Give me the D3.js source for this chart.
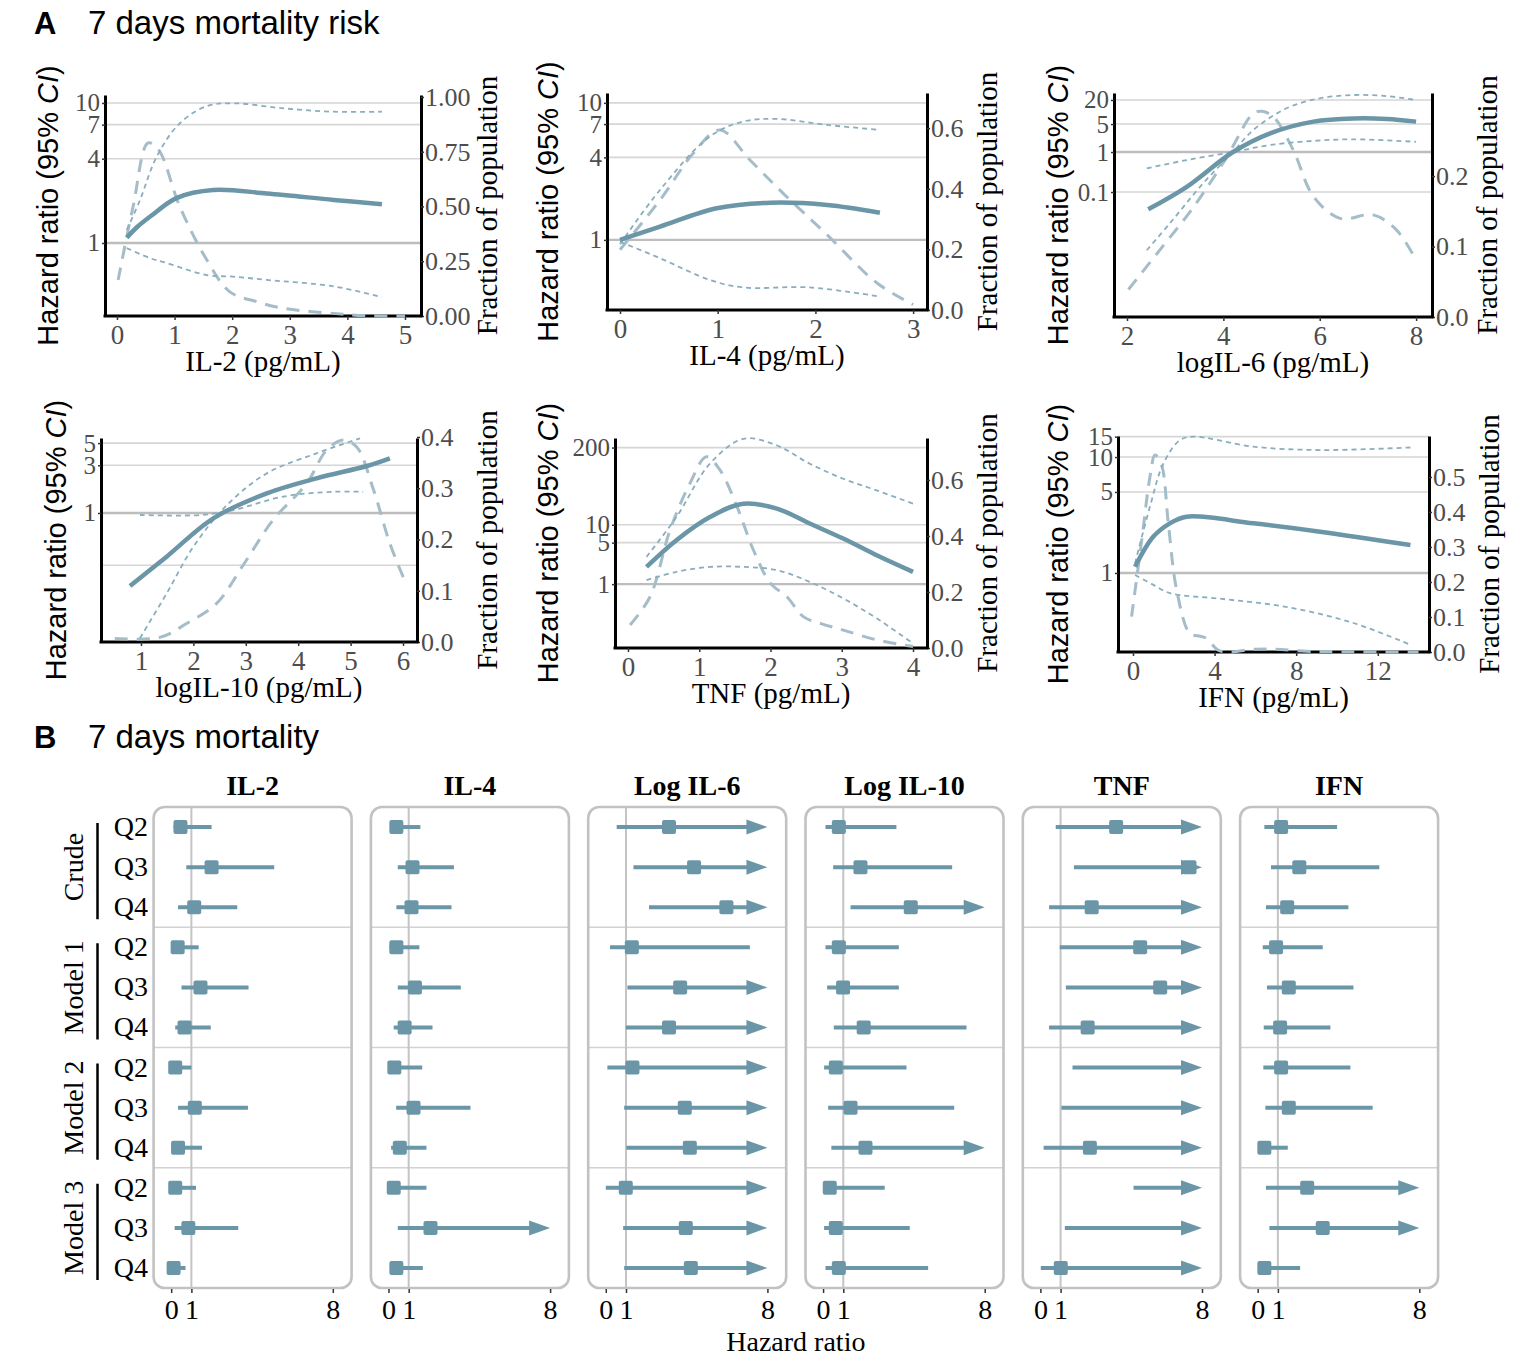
<!DOCTYPE html>
<html><head><meta charset="utf-8">
<script src="https://cdn.jsdelivr.net/npm/d3@7"></script>
<style>body{margin:0;background:#fff}</style>
</head><body>
<script>
// ---------------- Panel A data ([x, value] pairs) ----------------
const il2_hr = [[0.17,1.09],[0.35,1.3],[0.6,1.57],[1.04,2.1],[1.67,2.39],[2.6,2.26],[3.76,2.03],[4.6,1.89]];
const il2_upper = [[0.17,1.24],[0.4,2.03],[0.69,4.14],[1.09,7.16],[1.56,9.5],[2.02,9.95],[2.89,9.15],[3.76,8.66],[4.6,8.66]];
const il2_lower = [[0.17,0.92],[0.57,0.78],[0.86,0.72],[1.56,0.59],[2.02,0.575],[2.6,0.545],[3.76,0.49],[4.6,0.41]];
const il2_density = [[0.02,0.164],[0.28,0.5],[0.54,0.79],[0.72,0.76],[1.09,0.5],[1.56,0.256],[1.96,0.11],[2.43,0.065],[2.89,0.035],[3.76,0.012],[4.3,0.002],[5.0,0.0]];

const il4_hr = [[0,1.0],[0.41,1.25],[0.99,1.70],[1.54,1.87],[2.12,1.80],[2.66,1.58]];
const il4_upper = [[0,0.93],[0.41,2.32],[0.92,5.68],[1.26,7.3],[1.6,7.64],[2.12,6.9],[2.66,6.35]];
const il4_lower = [[0,0.97],[0.41,0.735],[0.92,0.51],[1.26,0.45],[1.94,0.45],[2.66,0.386]];
const il4_density = [[0,0.199],[0.41,0.363],[0.75,0.517],[1.02,0.594],[1.33,0.495],[1.67,0.385],[2.12,0.248],[2.63,0.089],[3.0,0.018]];

const il6_hr = [[2.44,0.037],[3.24,0.135],[4.2,1.0],[4.97,2.93],[5.87,5.75],[6.7,6.9],[7.39,6.7],[8.0,5.75]];
const il6_upper = [[2.41,0.0035],[2.89,0.0165],[3.58,0.165],[4.2,1.0],[4.62,3.55],[5.31,12.4],[6.0,22],[6.7,26.6],[7.39,25],[8.0,20]];
const il6_lower = [[2.41,0.39],[3.24,0.63],[4.2,1.0],[4.97,1.5],[5.87,1.9],[6.7,2.08],[8.0,1.8]];
const il6_density = [[2.03,0.039],[2.68,0.095],[3.38,0.156],[4.07,0.227],[4.62,0.289],[4.8,0.292],[5.04,0.284],[5.45,0.237],[5.87,0.171],[6.42,0.14],[7.11,0.145],[7.6,0.123],[7.98,0.083]];

const il10_hr = [[0.79,0.186],[1.49,0.366],[2.38,0.885],[3.4,1.57],[4.35,2.22],[5.31,2.95],[5.75,3.52]];
const il10_upper = [[0.98,0.056],[1.49,0.157],[2.0,0.46],[2.64,1.2],[3.4,2.49],[4.35,3.95],[5.18,5.58]];
const il10_lower = [[0.98,0.955],[2.13,0.955],[2.76,1.07],[3.72,1.46],[4.67,1.63],[5.24,1.63]];
const il10_density = [[0.5,0.007],[1.36,0.009],[1.87,0.036],[2.44,0.075],[2.95,0.15],[3.52,0.238],[4.16,0.309],[4.54,0.374],[4.86,0.394],[5.12,0.38],[5.44,0.296],[5.75,0.192],[6.04,0.118]];

const tnf_hr = [[0.26,1.95],[0.68,5.5],[1.15,13.5],[1.62,22.7],[2.09,18.7],[2.55,10.5],[3.02,5.86],[3.49,3.07],[4.0,1.61]];
const tnf_upper = [[0.26,2.88],[0.68,13.5],[1.15,107],[1.62,281],[2.09,217],[2.55,107],[3.02,59.7],[3.49,38],[4.0,22.7]];
const tnf_lower = [[0.26,1.17],[0.68,1.61],[1.15,1.95],[1.62,1.95],[2.09,1.72],[2.55,1.09],[3.02,0.575],[3.49,0.265],[4.0,0.1]];
const tnf_density = [[0.03,0.082],[0.31,0.183],[0.59,0.421],[0.87,0.588],[1.1,0.683],[1.29,0.636],[1.53,0.505],[1.76,0.35],[2.0,0.231],[2.23,0.183],[2.46,0.112],[2.7,0.088],[3.02,0.064],[3.49,0.029],[4.0,0.005]];

const ifn_hr = [[0.1,1.13],[1.0,2.06],[1.81,2.68],[2.63,3.06],[5.9,2.68],[9.17,2.27],[13.6,1.74]];
const ifn_upper = [[0.1,1.21],[0.83,3.73],[1.49,8.8],[2.3,14],[2.96,15],[5.9,12.3],[9.17,11.5],[13.6,12.1]];
const ifn_lower = [[0.1,0.96],[1.0,0.79],[1.81,0.67],[4.26,0.6],[7.5,0.51],[10.8,0.37],[13.6,0.24]];
const ifn_density = [[-0.07,0.101],[0.43,0.32],[0.83,0.5],[1.08,0.563],[1.4,0.534],[1.73,0.368],[2.14,0.177],[2.79,0.053],[3.3,0.045],[3.61,0.039],[4.26,0.003],[6,0.008],[7,0.008],[8.5,0.002],[10,0.001],[14,0.0]];

// tick values
const il2XTicks=[0,1,2,3,4,5], il2HrTicks=[1,4,7,10], il2FracTicks=[0,0.25,0.5,0.75,1.0];
const il4XTicks=[0,1,2,3], il4HrTicks=[1,4,7,10], il4FracTicks=[0,0.2,0.4,0.6];
const il6XTicks=[2,4,6,8], il6HrTicks=[0.1,1,5,20], il6FracTicks=[0,0.1,0.2];
const il10XTicks=[1,2,3,4,5,6], il10HrTicks=[1,3,5], il10HrGrid=[0.3,1,3,5], il10FracTicks=[0,0.1,0.2,0.3,0.4];
const tnfXTicks=[0,1,2,3,4], tnfHrTicks=[1,5,10,200], tnfFracTicks=[0,0.2,0.4,0.6];
const ifnXTicks=[0,4,8,12], ifnHrTicks=[1,5,10,15], ifnFracTicks=[0,0.1,0.2,0.3,0.4,0.5];

// ---------------- Panel B data ----------------
const forestCytokines=["IL-2","IL-4","Log IL-6","Log IL-10","TNF","IFN"];
const forestGroups=["Crude","Model 1","Model 2","Model 3"];
const quartiles=["Q2","Q3","Q4"];
const forestTicks=[0,1,8];
// values above 8 lie beyond the drawn axis (arrow / hidden square)
const il2_est=[0.46,2.0,1.14,0.32,1.45,0.66,0.2,1.17,0.34,0.2,0.85,0.12];
const il2_lo=[0.12,0.75,0.34,0.03,0.51,0.2,0.05,0.34,0.04,0.05,0.17,0.02];
const il2_hi=[2.0,5.1,3.27,1.36,3.83,1.96,1.0,3.8,1.53,1.23,3.32,0.71];
const il4_est=[0.39,1.19,1.14,0.39,1.31,0.8,0.29,1.24,0.56,0.26,2.08,0.39];
const il4_lo=[0.08,0.46,0.39,0.05,0.46,0.26,0.05,0.38,0.13,0.05,0.46,0.08];
const il4_hi=[1.58,3.24,3.12,1.53,3.58,2.18,1.67,4.06,1.88,1.88,20,1.7];
const il6_est=[3.13,4.37,5.97,1.29,3.68,3.13,1.32,3.91,4.16,0.99,3.96,4.21];
const il6_lo=[0.54,1.37,2.14,0.21,1.07,0.99,0.08,0.91,1.02,0.0,0.86,0.91];
const il6_hi=[20,20,20,7.13,20,20,20,20,20,20,20,20];
const il10_est=[0.78,1.85,4.34,0.78,0.99,2.01,0.63,1.36,2.1,0.33,0.63,0.78];
const il10_lo=[0.12,0.5,1.36,0.12,0.2,0.53,0.05,0.25,0.41,0.05,0.05,0.12];
const il10_hi=[3.63,6.39,20,3.75,3.75,7.1,4.13,6.49,20,3.05,4.29,5.2];
const tnf_est=[3.75,7.38,2.54,4.94,5.93,2.34,10,10,2.45,10,10,1.01];
const tnf_lo=[0.76,1.66,0.43,0.96,1.26,0.43,1.59,1.04,0.16,4.61,1.21,0.02];
const tnf_hi=[20,20,20,20,20,20,20,20,20,20,20,20];
const ifn_est=[1.16,2.06,1.46,0.91,1.54,1.11,1.16,1.54,0.33,2.45,3.22,0.33];
const ifn_lo=[0.33,0.66,0.41,0.25,0.46,0.3,0.28,0.38,0.1,0.41,0.58,0.1];
const ifn_hi=[3.93,6.02,4.49,3.22,4.74,3.6,4.59,5.69,1.49,20,20,2.1];

// ---------------- drawing ----------------
const W=1526,H=1363;
const SERIF="'Liberation Serif','Times New Roman',serif";
const SANS="'Liberation Sans',Arial,sans-serif";
const C_MAIN="#6b96a8", C_CI="#8aaebd", C_DEN="#a4bdc8";
const svg=d3.select("body").append("svg").attr("width",W).attr("height",H);
svg.append("rect").attr("width",W).attr("height",H).attr("fill","#fff");

function title(letter,txt,y){
  svg.append("text").attr("x",34).attr("y",y).attr("font-family",SANS).attr("font-weight","bold").attr("font-size",31).text(letter);
  svg.append("text").attr("x",88).attr("y",y).attr("font-family",SANS).attr("font-size",33).text(txt);
}
title("A","7 days mortality risk",34);
title("B","7 days mortality",748);

const panelsA=[
 {xlab:"IL-2 (pg/mL)",L:105,R:421,T:95,B:316,xd:[-0.208,5.278],yd:[0.301,11.4],fd:[0,1.009],xt:il2XTicks,ht:il2HrTicks,grid:il2HrTicks,ft:il2FracTicks,ffmt:".2f",hr:il2_hr,up:il2_upper,lo:il2_lower,den:il2_density,ylx:58,rlx:497},
 {xlab:"IL-4 (pg/mL)",L:607,R:927,T:93,B:310,xd:[-0.133,3.142],yd:[0.308,11.8],fd:[0,0.716],xt:il4XTicks,ht:il4HrTicks,grid:il4HrTicks,ft:il4FracTicks,ffmt:".1f",hr:il4_hr,up:il4_upper,lo:il4_lower,den:il4_density,ylx:558,rlx:997},
 {xlab:"logIL-6 (pg/mL)",L:1114,R:1432,T:93,B:317,xd:[1.73,8.33],yd:[7.5e-5,29.9],fd:[0,0.318],xt:il6XTicks,ht:il6HrTicks,grid:il6HrTicks,ft:il6FracTicks,ffmt:".1f",hr:il6_hr,up:il6_upper,lo:il6_lower,den:il6_density,ylx:1068,rlx:1497},
 {xlab:"logIL-10 (pg/mL)",L:101,R:417,T:438,B:642,xd:[0.237,6.267],yd:[0.0513,5.62],fd:[0,0.398],xt:il10XTicks,ht:il10HrTicks,grid:il10HrGrid,ft:il10FracTicks,ffmt:".1f",hr:il10_hr,up:il10_upper,lo:il10_lower,den:il10_density,ylx:66,rlx:497},
 {xlab:"TNF (pg/mL)",L:615,R:927,T:438,B:648,xd:[-0.182,4.196],yd:[0.0839,290],fd:[0,0.75],xt:tnfXTicks,ht:tnfHrTicks,grid:tnfHrTicks,ft:tnfFracTicks,ffmt:".1f",hr:tnf_hr,up:tnf_upper,lo:tnf_lower,den:tnf_density,ylx:558,rlx:997},
 {xlab:"IFN (pg/mL)",L:1118,R:1429,T:436,B:652,xd:[-0.735,14.51],yd:[0.208,15.2],fd:[0,0.617],xt:ifnXTicks,ht:ifnHrTicks,grid:ifnHrTicks,ft:ifnFracTicks,ffmt:".1f",hr:ifn_hr,up:ifn_upper,lo:ifn_lower,den:ifn_density,ylx:1068,rlx:1499}
];

function styleAxis(g,color,size){
  g.select(".domain").attr("stroke","#000").attr("stroke-width",3);
  g.selectAll(".tick line").attr("stroke","#333").attr("stroke-width",1.5);
  g.selectAll(".tick text").attr("font-family",SERIF).attr("font-size",size).attr("fill",color);
}

panelsA.forEach((p,i)=>{
  const x=d3.scaleLinear().domain(p.xd).range([p.L,p.R]);
  const y=d3.scaleLog().domain(p.yd).range([p.B,p.T]);
  const f=d3.scaleLinear().domain(p.fd).range([p.B,p.T]);
  const g=svg.append("g");
  // grid
  p.grid.forEach(v=>{
    g.append("line").attr("x1",p.L).attr("x2",p.R).attr("y1",y(v)).attr("y2",y(v))
     .attr("stroke",v===1?"#bdbdbd":"#d6d6d6").attr("stroke-width",v===1?2.4:1.6);
  });
  // axes
  const ax=g.append("g").attr("transform",`translate(${p.L},0)`)
    .call(d3.axisLeft(y).tickValues(p.ht).tickFormat(d=>String(d)).tickSize(3).tickSizeOuter(0).tickPadding(2));
  styleAxis(ax,"#4d4d4d",25);
  const ar=g.append("g").attr("transform",`translate(${p.R},0)`)
    .call(d3.axisRight(f).tickValues(p.ft).tickFormat(d3.format(p.ffmt)).tickSize(3).tickSizeOuter(0).tickPadding(1));
  styleAxis(ar,"#4d4d4d",26);
  const ab=g.append("g").attr("transform",`translate(0,${p.B})`)
    .call(d3.axisBottom(x).tickValues(p.xt).tickFormat(d=>String(d)).tickSize(4).tickSizeOuter(0).tickPadding(5));
  styleAxis(ab,"#4d4d4d",27);
  ab.select(".domain").attr("d",`M${p.L-1.5},0H${p.R+1.5}`);
  // curves
  const cid="clipA"+i;
  svg.append("clipPath").attr("id",cid).append("rect").attr("x",p.L).attr("y",p.T-4).attr("width",p.R-p.L).attr("height",p.B-p.T+8);
  const cg=g.append("g").attr("clip-path",`url(#${cid})`);
  const lh=d3.line().x(d=>x(d[0])).y(d=>y(d[1])).curve(d3.curveCatmullRom.alpha(0.5));
  const lf=d3.line().x(d=>x(d[0])).y(d=>f(d[1])).curve(d3.curveCatmullRom.alpha(0.5));
  cg.append("path").attr("d",lf(p.den)).attr("fill","none").attr("stroke",C_DEN).attr("stroke-width",3).attr("stroke-dasharray","13,9");
  cg.append("path").attr("d",lh(p.up)).attr("fill","none").attr("stroke",C_CI).attr("stroke-width",1.8).attr("stroke-dasharray","5,4");
  cg.append("path").attr("d",lh(p.lo)).attr("fill","none").attr("stroke",C_CI).attr("stroke-width",1.8).attr("stroke-dasharray","5,4");
  cg.append("path").attr("d",lh(p.hr)).attr("fill","none").attr("stroke",C_MAIN).attr("stroke-width",4.5);
  // labels
  const ymid=(p.T+p.B)/2;
  const yl=svg.append("text").attr("transform",`translate(${p.ylx},${ymid}) rotate(-90)`).attr("text-anchor","middle")
    .attr("font-family",SANS).attr("font-size",29).attr("fill","#000");
  yl.append("tspan").text("Hazard ratio (95% ");
  yl.append("tspan").attr("font-style","italic").text("CI");
  yl.append("tspan").text(")");
  svg.append("text").attr("transform",`translate(${p.rlx},${ymid}) rotate(-90)`).attr("text-anchor","middle")
    .attr("font-family",SERIF).attr("font-size",29).attr("fill","#000").text("Fraction of population");
  svg.append("text").attr("x",(p.L+p.R)/2).attr("y",p.B+55).attr("text-anchor","middle")
    .attr("font-family",SERIF).attr("font-size",29).attr("fill","#000").text(p.xlab);
});

// ---------------- Panel B ----------------
const forestData=[[il2_est,il2_lo,il2_hi],[il4_est,il4_lo,il4_hi],[il6_est,il6_lo,il6_hi],[il10_est,il10_lo,il10_hi],[tnf_est,tnf_lo,tnf_hi],[ifn_est,ifn_lo,ifn_hi]];
const rowLabels=[];forestGroups.forEach(g=>quartiles.forEach(q=>rowLabels.push(q)));
const fx0=153.6,fstep=217.3,fw=198,fTop=807,fBot=1288;
const yb=d3.scaleBand().domain(d3.range(rowLabels.length)).range([fTop,fBot]);
const rc=i=>yb(i)+yb.bandwidth()/2;

// row labels
const al=svg.append("g").attr("transform","translate(150,0)")
  .call(d3.axisLeft(yb).tickFormat(i=>rowLabels[i]).tickSize(0).tickPadding(2));
al.select(".domain").remove();
al.selectAll(".tick text").attr("font-family",SERIF).attr("font-size",28).attr("fill","#000");
forestGroups.forEach((gname,gi)=>{
  const top=yb(gi*3), bot=yb(gi*3+2)+yb.bandwidth();
  svg.append("line").attr("x1",97.5).attr("x2",97.5).attr("y1",top+16).attr("y2",bot-8).attr("stroke","#000").attr("stroke-width",2.5);
  svg.append("text").attr("transform",`translate(83,${(top+bot)/2}) rotate(-90)`).attr("text-anchor","middle")
    .attr("font-family",SERIF).attr("font-size",28).attr("fill","#000").text(gname);
});

forestCytokines.forEach((name,ci)=>{
  const L=fx0+ci*fstep,R=L+fw;
  const x=d3.scaleLinear().domain([-0.87,8.93]).range([L,R]);
  const g=svg.append("g");
  svg.append("text").attr("x",(L+R)/2).attr("y",795).attr("text-anchor","middle").attr("font-family",SERIF)
    .attr("font-weight","bold").attr("font-size",28).attr("fill","#000").text(name);
  [3,6,9].forEach(k=>g.append("line").attr("x1",L).attr("x2",R).attr("y1",yb(k)).attr("y2",yb(k)).attr("stroke","#d2d2d2").attr("stroke-width",1.6));
  g.append("line").attr("x1",x(1)).attr("x2",x(1)).attr("y1",fTop).attr("y2",fBot).attr("stroke","#c4c4c4").attr("stroke-width",2);
  g.append("rect").attr("x",L).attr("y",fTop).attr("width",fw).attr("height",fBot-fTop).attr("rx",11)
    .attr("fill","none").attr("stroke","#c2c2c2").attr("stroke-width",2.6);
  const ab=g.append("g").attr("transform",`translate(0,${fBot+1})`)
    .call(d3.axisBottom(x).tickValues(forestTicks).tickFormat(d=>String(d)).tickSize(4).tickPadding(6));
  ab.select(".domain").remove();
  ab.selectAll(".tick line").attr("stroke","#333").attr("stroke-width",1.5);
  ab.selectAll(".tick text").attr("font-family",SERIF).attr("font-size",28).attr("fill","#000");
  const [est,lo,hi]=forestData[ci];
  est.forEach((e,i)=>{
    const yc=rc(i);
    const arrow=hi[i]>8;
    const xEnd=arrow?x(8)-18:x(hi[i]);
    g.append("line").attr("x1",x(lo[i])).attr("x2",xEnd).attr("y1",yc).attr("y2",yc).attr("stroke",C_MAIN).attr("stroke-width",4);
    if(arrow){
      const t=x(8);
      g.append("path").attr("d",`M${t},${yc}L${t-21},${yc-7.5}L${t-21},${yc+7.5}Z`).attr("fill",C_MAIN);
    }
    if(e<=8){
      g.append("rect").attr("x",x(e)-7).attr("y",yc-7).attr("width",14).attr("height",14).attr("rx",2).attr("fill",C_MAIN);
    }
  });
});
svg.append("text").attr("x",(fx0+fx0+5*fstep+fw)/2).attr("y",1351).attr("text-anchor","middle")
  .attr("font-family",SERIF).attr("font-size",28).attr("fill","#000").text("Hazard ratio");
</script>
</body></html>
